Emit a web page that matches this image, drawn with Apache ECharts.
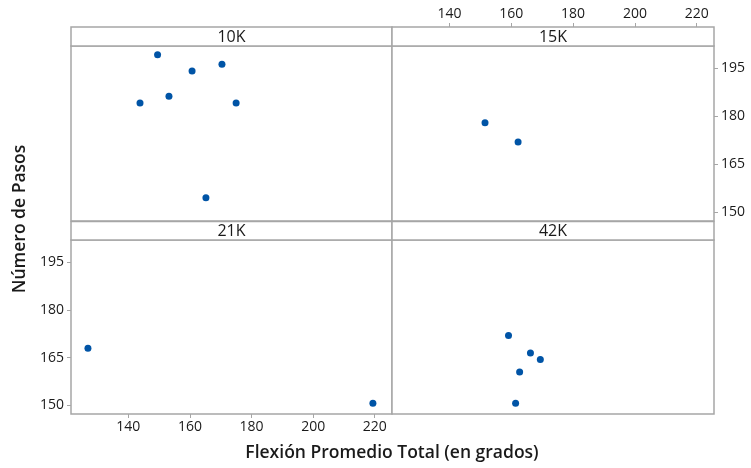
<!DOCTYPE html>
<html>
<head>
<meta charset="utf-8">
<style>
  html, body { margin: 0; padding: 0; background: #fff; }
  #chart { width: 751px; height: 468px; }
</style>
<script src="https://cdn.jsdelivr.net/npm/echarts@6/dist/echarts.min.js"></script>
</head>
<body>
<div id="chart"></div>
<script>
// Panel names (one per distance)
const panels = ['10K', '15K', '21K', '42K'];

// [Flexión promedio total, Número de pasos] per panel
const data10K = [[149.5, 199.3], [160.7, 194.2], [170.4, 196.3], [143.8, 184.2], [153.2, 186.3], [175.0, 184.2], [165.2, 154.6]];
const data15K = [[151.5, 178.0], [162.2, 172.0]];
const data21K = [[126.9, 168.0], [219.4, 150.7]];
const data42K = [[159.1, 172.0], [166.2, 166.5], [169.4, 164.4], [162.7, 160.5], [161.4, 150.7]];

// Tick labels
const xTicks = [140, 160, 180, 200, 220];
const yTicks = [150, 165, 180, 195];

const xTitle = 'Flexión Promedio Total (en grados)';
const yTitle = 'Número de Pasos';

const X_MIN = 121.4, X_MAX = 225.6;
const Y_MIN = 147.3, Y_MAX = 202.0;

const FONT = '"Open Sans", "Noto Sans", sans-serif';
const FRAME = '#a6a6a6';
const TEXT = '#1a1a1a';
const DOT = '#0054a6';

// Layout of the 2x2 trellis
const colLeft = [71, 392];
const colWidth = [321, 322];
const stripTop = [27, 221.5];
const stripH = [19, 18.5];
const plotTop = [46, 240];
const plotH = [175, 174];

const seriesData = [data10K, data15K, data21K, data42K];

const grids = [], xAxes = [], yAxes = [], series = [], graphics = [];

panels.forEach((name, i) => {
  const r = Math.floor(i / 2), c = i % 2;
  grids.push({
    left: colLeft[c], top: plotTop[r], width: colWidth[c], height: plotH[r],
    show: true, borderColor: FRAME, borderWidth: 1.5, backgroundColor: '#fff',
    containLabel: false
  });

  const topAxis = (i === 1);
  const bottomAxis = (i === 2);
  const rightAxis = (i === 1);
  const leftAxis = (i === 2);

  const showX = topAxis || bottomAxis;
  xAxes.push({
    type: 'value', gridIndex: i, min: X_MIN, max: X_MAX,
    position: topAxis ? 'top' : 'bottom',
    offset: topAxis ? stripH[0] : 0,
    axisLine: { show: false },
    splitLine: { show: false },
    axisTick: { show: showX, inside: false, length: 4, customValues: xTicks,
      lineStyle: { color: FRAME, width: 1 } },
    axisLabel: { show: showX, customValues: xTicks, margin: 6,
      color: TEXT, fontFamily: FONT, fontSize: 14 }
  });

  const showY = rightAxis || leftAxis;
  yAxes.push({
    type: 'value', gridIndex: i, min: Y_MIN, max: Y_MAX,
    position: rightAxis ? 'right' : 'left',
    axisLine: { show: false },
    splitLine: { show: false },
    axisTick: { show: showY, inside: false, length: 4, customValues: yTicks,
      lineStyle: { color: FRAME, width: 1 } },
    axisLabel: { show: showY, customValues: yTicks, margin: 7,
      color: TEXT, fontFamily: FONT, fontSize: 14 }
  });

  series.push({
    type: 'scatter', xAxisIndex: i, yAxisIndex: i,
    data: seriesData[i], symbol: 'circle', symbolSize: 7,
    itemStyle: { color: DOT, opacity: 1 }, silent: true
  });

  // Panel header strip
  graphics.push({
    type: 'rect', z: 10,
    shape: { x: colLeft[c], y: stripTop[r], width: colWidth[c], height: stripH[r] },
    style: { fill: '#fff', stroke: FRAME, lineWidth: 1.5 }
  });
  graphics.push({
    type: 'text', z: 11,
    x: colLeft[c] + colWidth[c] / 2, y: stripTop[r] + stripH[r] / 2 + 0.5,
    style: { text: name, fill: TEXT, font: '16px ' + FONT, align: 'center', verticalAlign: 'middle' }
  });
});

graphics.push({
  type: 'text', x: 392, y: 453,
  style: { text: xTitle, fill: TEXT, font: '600 17.5px ' + FONT, align: 'center', verticalAlign: 'middle' }
});
graphics.push({
  type: 'text', x: 20, y: 219, rotation: Math.PI / 2,
  style: { text: yTitle, fill: TEXT, font: '600 17.5px ' + FONT, align: 'center', verticalAlign: 'middle' }
});

const chart = echarts.init(document.getElementById('chart'), null, { renderer: 'canvas' });
chart.setOption({
  backgroundColor: '#fff',
  animation: false,
  grid: grids,
  xAxis: xAxes,
  yAxis: yAxes,
  series: series,
  graphic: graphics
});
</script>
</body>
</html>
